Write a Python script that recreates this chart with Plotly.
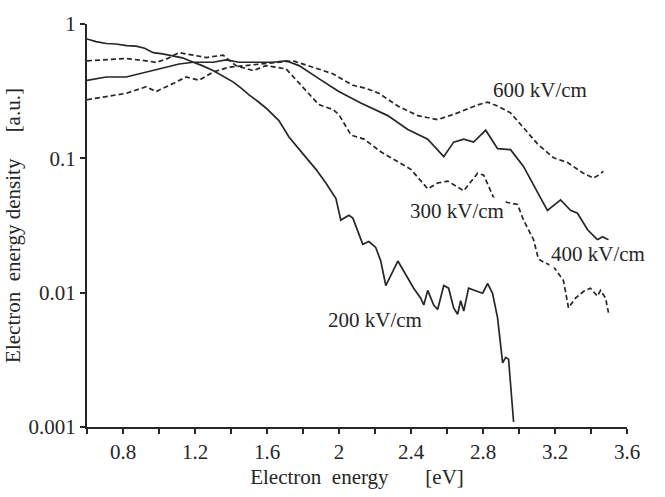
import math
import plotly.graph_objects as go

# 200 kV/cm (solid)
x200 = [0.60, 0.65, 0.707, 0.76, 0.82, 0.873, 0.92, 0.968, 1.02, 1.079, 1.13, 1.190, 1.24, 1.300,
        1.35, 1.411, 1.46, 1.500, 1.55, 1.594, 1.666, 1.722,
        1.800, 1.872, 1.927, 1.983, 2.010, 2.055, 2.077, 2.132, 2.166, 2.204, 2.232, 2.260,
        2.327, 2.382, 2.415, 2.454, 2.471, 2.493, 2.526, 2.548, 2.582, 2.609, 2.637, 2.659,
        2.676, 2.693, 2.720, 2.770, 2.798, 2.826, 2.853, 2.881, 2.898, 2.909, 2.926, 2.942, 2.970]
y200 = [0.774, 0.74, 0.716, 0.71, 0.69, 0.684, 0.66, 0.612, 0.60, 0.579, 0.56, 0.519, 0.49, 0.450,
        0.41, 0.371, 0.33, 0.297, 0.265, 0.237, 0.191, 0.144,
        0.108, 0.0828, 0.0655, 0.0501, 0.0347, 0.0377, 0.0359, 0.0229, 0.024, 0.0217, 0.0172, 0.0113,
        0.0172, 0.0127, 0.0108, 0.0091, 0.0081, 0.0104, 0.0081, 0.0075, 0.0113, 0.0108, 0.0077, 0.0069,
        0.0087, 0.0073, 0.0108, 0.0102, 0.0099, 0.0117, 0.0099, 0.0065, 0.00375, 0.0030, 0.0033, 0.0032, 0.00109]

# 300 kV/cm (dashed)
x300 = [0.60, 0.707, 0.818, 0.929, 0.984, 1.040, 1.112, 1.190, 1.262, 1.356, 1.428, 1.523,
        1.594, 1.706, 1.778, 1.888, 1.966, 1.999, 2.067, 2.139, 2.232, 2.327, 2.399, 2.493,
        2.548, 2.604, 2.693, 2.770, 2.804, 2.859, 2.937, 2.992, 3.025, 3.081, 3.108, 3.136,
        3.192, 3.247, 3.275, 3.314, 3.358, 3.397, 3.436, 3.453, 3.481, 3.497]
y300 = [0.532, 0.541, 0.554, 0.532, 0.518, 0.548, 0.612, 0.586, 0.563, 0.586, 0.490, 0.450,
        0.490, 0.463, 0.361, 0.251, 0.231, 0.212, 0.149, 0.139, 0.112, 0.0946, 0.0828, 0.0593,
        0.0655, 0.0677, 0.0573, 0.0774, 0.0749, 0.0510, 0.0469, 0.0454, 0.0347, 0.0248, 0.0178, 0.0169,
        0.0156, 0.0123, 0.0077, 0.0091, 0.0102, 0.0108, 0.0094, 0.0104, 0.0091, 0.0071]

# 400 kV/cm (solid)
x400 = [0.60, 0.707, 0.818, 0.929, 1.040, 1.112, 1.190, 1.300, 1.372, 1.445, 1.556, 1.633,
        1.706, 1.778, 1.888, 1.999, 2.121, 2.271, 2.382, 2.493, 2.582, 2.637, 2.693, 2.748,
        2.815, 2.881, 2.953, 3.025, 3.119, 3.158, 3.231, 3.286, 3.325, 3.381, 3.436, 3.464, 3.497]
y400 = [0.381, 0.403, 0.403, 0.439, 0.477, 0.504, 0.519, 0.519, 0.541, 0.519, 0.519, 0.519,
        0.532, 0.490, 0.392, 0.314, 0.258, 0.208, 0.164, 0.139, 0.103, 0.132, 0.139, 0.132,
        0.162, 0.118, 0.116, 0.087, 0.051, 0.041, 0.049, 0.041, 0.039, 0.0294, 0.0248, 0.0261, 0.0248]

# 600 kV/cm (dashed)
x600 = [0.60, 0.707, 0.818, 0.929, 0.984, 1.079, 1.151, 1.223, 1.300, 1.389, 1.483, 1.578,
        1.666, 1.744, 1.855, 1.966, 2.077, 2.149, 2.221, 2.260, 2.327, 2.438, 2.548, 2.659,
        2.770, 2.826, 2.881, 2.953, 3.025, 3.103, 3.192, 3.270, 3.358, 3.414, 3.442, 3.469]
y600 = [0.273, 0.289, 0.305, 0.341, 0.314, 0.361, 0.403, 0.381, 0.439, 0.477, 0.490, 0.504,
        0.519, 0.532, 0.477, 0.426, 0.350, 0.332, 0.305, 0.281, 0.245, 0.208, 0.194, 0.218,
        0.250, 0.262, 0.245, 0.218, 0.170, 0.128, 0.101, 0.093, 0.0774, 0.0713, 0.075, 0.080]

label_text = ["600 kV/cm", "300 kV/cm", "400 kV/cm", "200 kV/cm"]
label_x = [3.114, 2.657, 3.441, 2.199]
label_y = [0.321, 0.0403, 0.0193, 0.0063]

y_tickvals = [0.001, 0.01, 0.1, 1]
y_ticktext = ["0.001", "0.01", "0.1", "1"]

FONT = "Liberation Serif, Times New Roman, serif"
INK = "#262626"
FS = 21

fig = go.Figure()
series = [(x200, y200, "solid"), (x300, y300, "5px,3px"),
          (x400, y400, "solid"), (x600, y600, "5px,3px")]
for xs, ys, dash in series:
    fig.add_trace(go.Scatter(x=xs, y=ys, mode="lines",
                             line=dict(color=INK, width=1.7, dash=dash),
                             showlegend=False, hoverinfo="skip"))

for t, lx, ly in zip(label_text, label_x, label_y):
    fig.add_annotation(x=lx, y=math.log10(ly), xref="x", yref="y", text=t, showarrow=False,
                       font=dict(family=FONT, size=FS, color=INK), bgcolor="white")

fig.update_layout(
    width=665, height=497,
    margin=dict(l=86, r=38, t=19, b=65),
    paper_bgcolor="white", plot_bgcolor="white",
    font=dict(family=FONT, size=FS, color=INK),
    xaxis=dict(range=[0.6, 3.6], tick0=0.8, dtick=0.4, ticks="outside", ticklen=5,
               tickwidth=2, tickcolor=INK, showline=True, linecolor=INK, linewidth=2,
               showgrid=False, zeroline=False, tickfont=dict(size=FS),
               minor=dict(dtick=0.2, tick0=0.6, ticks="outside", ticklen=5, tickwidth=2,
                          tickcolor=INK, showgrid=False),
               title=dict(text="Electron\u00a0 energy\u00a0\u00a0\u00a0\u00a0\u00a0\u00a0 [eV]",
                          font=dict(family=FONT, size=FS, color=INK), standoff=6)),
    yaxis=dict(type="log", range=[-3, 0], tickvals=y_tickvals, ticktext=y_ticktext,
               ticks="outside", ticklen=5, tickwidth=2, tickcolor=INK, tickfont=dict(size=FS),
               showline=True, linecolor=INK, linewidth=2, showgrid=False, zeroline=False,
               title=dict(text="Electron\u00a0 energy density\u00a0\u00a0\u00a0\u00a0 [a.u.]",
                          font=dict(family=FONT, size=FS, color=INK), standoff=2)),
)

fig.write_html("out.html")
